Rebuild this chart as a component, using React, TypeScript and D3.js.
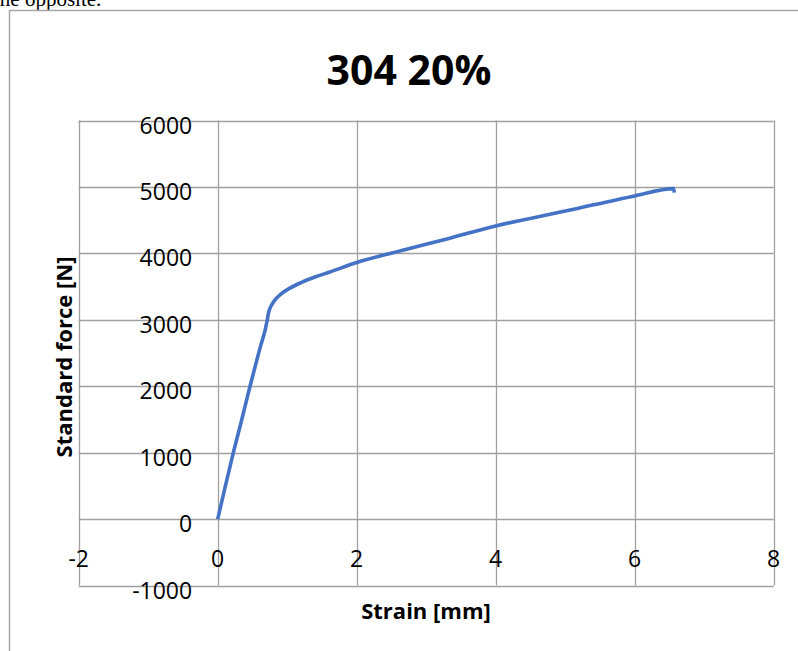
import React from "react";
import * as d3 from "d3";

const strain = [0, 0.1, 0.225, 0.335, 0.465, 0.6, 0.714, 0.73, 0.76, 0.8, 0.85, 0.9, 1.04, 1.2, 1.42, 1.6, 2.0, 2.62, 3.34, 4.0, 5.02, 6.0, 6.56, 6.57];
const force = [0, 450, 1000, 1450, 2000, 2540, 3000, 3100, 3190, 3265, 3330, 3380, 3477, 3560, 3651, 3715, 3862, 4035, 4229, 4413, 4640, 4865, 4975, 4914];
const xTicks = [-2, 0, 2, 4, 6, 8];
const yTicks = [-1000, 0, 1000, 2000, 3000, 4000, 5000, 6000];
const title = "304 20%";
const xTitle = "Strain [mm]";
const yTitle = "Standard force [N]";

export default function App() {
  const W = 798, H = 651;
  const x = d3.scaleLinear().domain([-2, 8]).range([78.7, 773.7]);
  const y = d3.scaleLinear().domain([-1000, 6000]).range([585.5, 120.5]);
  const pts: [number, number][] = strain.map((s, i) => [s, force[i]]);
  const line = d3.line<[number, number]>().x(d => x(d[0])).y(d => y(d[1])).curve(d3.curveMonotoneX);
  const font = "'Open Sans', sans-serif";
  const x0 = x(0), y0 = y(0);
  return (
    <svg width={W} height={H} style={{ position: "fixed", left: 0, top: 0, background: "#fff" }}>
      <rect x={0} y={0} width={W} height={H} fill="#fff" />
      <text x={-6} y={6} fontFamily="'Liberation Serif', 'Times New Roman', serif" fontSize={21} fill="#000">the opposite.</text>
      <rect x={9.5} y={10.5} width={W + 20} height={H + 20} fill="none" stroke="#a6a6a6" strokeWidth={1.5} />
      <text x={409} y={85} textAnchor="middle" fontFamily={font} fontWeight="bold" fontSize={41} fill="#000">{title}</text>
      {yTicks.map(t => (
        <line key={"h" + t} x1={x(-2)} x2={x(8)} y1={Math.round(y(t)) + 0.5} y2={Math.round(y(t)) + 0.5} stroke="#a0a0a0" strokeWidth={1.3} />
      ))}
      {xTicks.map(t => (
        <line key={"v" + t} x1={Math.round(x(t)) + 0.5} x2={Math.round(x(t)) + 0.5} y1={y(6000)} y2={y(-1000)} stroke="#a0a0a0" strokeWidth={1.3} />
      ))}
      {yTicks.map(t => (
        <text key={"yl" + t} x={x0 - 25.5} y={y(t) + 13} textAnchor="end" fontFamily={font} fontSize={23} fill="#000">{t}</text>
      ))}
      {xTicks.map(t => (
        <text key={"xl" + t} x={x(t)} y={y0 + 48} textAnchor="middle" fontFamily={font} fontSize={23} fill="#000">{t}</text>
      ))}
      <path d={line(pts) || ""} fill="none" stroke="#4472C4" strokeWidth={3.6} strokeLinejoin="round" />
      <text x={426} y={619} textAnchor="middle" fontFamily={font} fontWeight="bold" fontSize={22} fill="#000">{xTitle}</text>
      <text transform={`translate(72,357) rotate(-90)`} textAnchor="middle" fontFamily={font} fontWeight="bold" fontSize={22} fill="#000">{yTitle}</text>
    </svg>
  );
}
